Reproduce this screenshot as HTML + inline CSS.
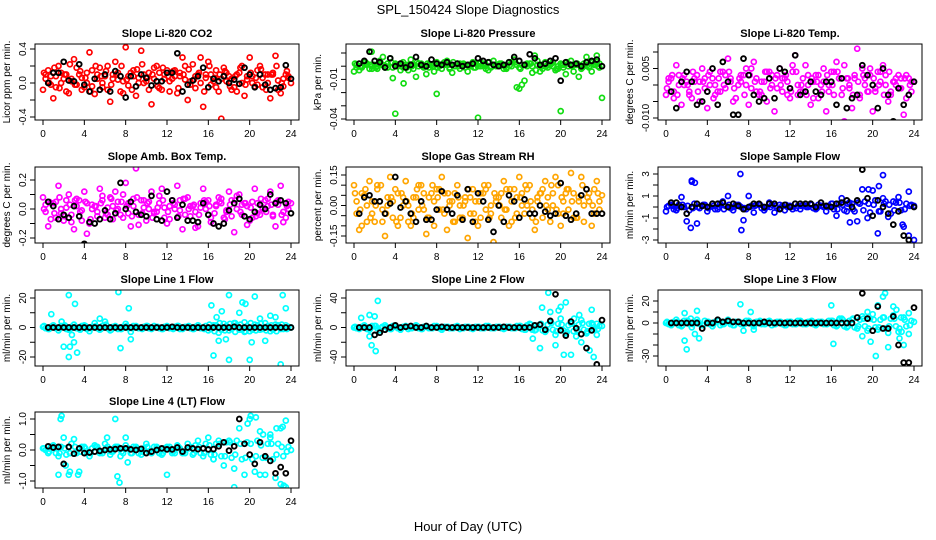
<!DOCTYPE html>
<html><head><meta charset="utf-8"><style>
body{margin:0;background:#fff}
svg{display:block;font-family:"Liberation Sans",Arial,sans-serif}
</style></head><body>
<svg id="chart" width="936" height="540" viewBox="0 0 936 540">
<text x="468" y="14" text-anchor="middle" font-size="13">SPL_150424  Slope Diagnostics</text>
<text x="468" y="531" text-anchor="middle" font-size="13">Hour of Day (UTC)</text>
</svg>
<script>
const hoursA=[0,0.5,1,1.5,2,2.5,3,3.5,4,4.5,5,5.5,6,6.5,7,7.5,8,8.5,9,9.5,10,10.5,11,11.5,12,12.5,13,13.5,14,14.5,15,15.5,16,16.5,17,17.5,18,18.5,19,19.5,20,20.5,21,21.5,22,22.5,23,23.5,24];
const hoursB=[0.25,0.75,1.25,1.75,2.25,2.75,3.25,3.75,4.25,4.75,5.25,5.75,6.25,6.75,7.25,7.75,8.25,8.75,9.25,9.75,10.25,10.75,11.25,11.75,12.25,12.75,13.25,13.75,14.25,14.75,15.25,15.75,16.25,16.75,17.25,17.75,18.25,18.75,19.25,19.75,20.25,20.75,21.25,21.75,22.25,22.75,23.25,23.75];
const hoursD=[0.1,0.6,1.1,1.6,2.1,2.6,3.1,3.6,4.1,4.6,5.1,5.6,6.1,6.6,7.1,7.6,8.1,8.6,9.1,9.6,10.1,10.6,11.1,11.6,12.1,12.6,13.1,13.6,14.1,14.6,15.1,15.6,16.1,16.6,17.1,17.6,18.1,18.6,19.1,19.6,20.1,20.6,21.1,21.6,22.1,22.6,23.1,23.6];
const hoursK=[0.5,1,1.5,2,2.5,3,3.5,4,4.5,5,5.5,6,6.5,7,7.5,8,8.5,9,9.5,10,10.5,11,11.5,12,12.5,13,13.5,14,14.5,15,15.5,16,16.5,17,17.5,18,18.5,19,19.5,20,20.5,21,21.5,22,22.5,23,23.5,24];
const xTicks=[0,4,8,12,16,20,24];

const co2A=[-0.08,0.15,-0.18,0.2,0.05,-0.12,0.28,0.1,-0.05,0.36,-0.13,0.18,0.08,-0.22,0.25,-0.1,0.42,0.12,-0.15,0.38,0.02,-0.25,0.2,-0.08,0.15,0.05,-0.12,0.3,-0.2,0.22,0.1,-0.28,0.25,0.02,-0.1,0.18,0.08,-0.05,0.12,-0.15,0.3,-0.04,0.2,0.1,-0.18,0.32,-0.12,0.1,0.0];
const co2B=[0.1,-0.02,0.08,0.12,-0.1,0.05,0.18,-0.08,0.0,0.15,0.1,-0.05,0.2,0.05,0.12,-0.12,0.08,0.15,0.0,0.1,-0.08,0.18,0.12,0.05,-0.1,0.15,0.08,0.2,0.02,-0.06,0.3,0.1,-0.02,0.15,-0.42,0.12,0.05,-0.1,0.2,0.08,0.0,0.15,-0.05,0.1,0.12,-0.08,0.05,0.08];
const co2C=[0.05,0.08,-0.05,0.0,0.1,0.02,-0.02,0.06,0.12,-0.04,0.05,0.0,-0.08,0.1,0.04,0.02,-0.03,0.08,0.06,0.0,0.12,0.05,-0.06,0.1,0.02,0.08,0.12,0.04,-0.02,0.08,0.0,0.06,0.1,-0.05,0.05,0.02,-0.08,0.1,0.0,0.04,0.08,-0.02,0.06,0.0,0.1,0.03,-0.04,0.06];
const co2D=[0.12,0.0,0.18,-0.06,0.1,0.22,-0.02,0.14,0.06,-0.1,0.2,0.08,0.14,-0.02,0.1,0.2,0.04,-0.08,0.16,0.22,0.06,0.1,-0.04,0.18,0.08,0.14,-0.06,0.1,0.16,0.04,0.12,-0.1,0.2,0.06,0.1,0.14,-0.04,0.08,0.18,-0.02,0.12,0.06,0.16,-0.08,0.1,0.2,0.0,0.14];
const co2K=[0.0,0.12,0.12,0.25,0.03,0.02,0.22,-0.02,-0.1,0.05,-0.08,0.1,-0.1,0.14,0.08,-0.17,0.08,-0.04,0.1,0.06,-0.03,0.02,0.02,0.12,0.12,0.35,-0.1,-0.02,0.03,0.08,0.18,-0.05,0.05,0.02,0.08,0.0,0.04,-0.01,0.18,0.1,-0.05,0.1,-0.02,-0.08,-0.06,-0.05,0.21,0.05];

const prsA=[-0.004,-0.003,0.003,-0.002,0.001,0.004,-0.001,0.006,0.002,-0.003,0.001,0.005,-0.008,0.002,-0.006,0.001,0.003,-0.002,0.004,-0.005,0.002,0.001,-0.004,0.003,0.0,0.002,-0.003,0.004,0.001,-0.002,0.003,0.005,-0.001,-0.011,0.002,0.008,-0.004,0.003,0.001,-0.003,0.002,-0.006,0.004,0.001,-0.002,0.007,-0.004,0.003,-0.024];
const prsB=[0.001,-0.001,0.002,0.0,-0.002,0.001,0.002,-0.001,0.0,0.003,-0.003,0.001,0.002,0.0,-0.001,0.002,0.001,0.003,-0.002,0.0,0.002,-0.001,0.001,0.002,0.003,-0.002,0.0,0.001,0.002,-0.001,0.003,0.001,-0.014,0.002,0.0,0.004,-0.002,0.001,0.003,0.0,-0.001,0.002,0.001,-0.008,0.002,0.0,0.001,0.002];
const prsC=[-0.001,0.0,0.001,-0.002,0.0,0.001,-0.001,-0.009,0.0,-0.001,0.001,-0.002,0.0,-0.001,0.001,-0.004,0.0,0.001,-0.001,0.0,-0.002,0.001,0.0,-0.001,0.0,0.001,-0.001,0.0,0.001,-0.002,0.0,-0.016,0.001,0.0,-0.005,0.001,0.0,-0.001,0.0,-0.002,0.001,0.0,-0.004,0.001,0.0,-0.001,0.002,-0.001];
const prsD=[0.002,0.0,0.003,0.001,-0.001,0.002,0.0,0.003,0.001,0.002,-0.001,0.0,0.003,0.001,0.002,0.0,-0.001,0.002,0.001,0.003,0.0,0.002,0.001,-0.001,0.002,0.0,0.003,0.001,0.002,0.0,0.001,0.003,-0.002,0.001,0.002,-0.003,0.001,0.0,0.002,-0.002,0.001,0.003,0.0,0.002,-0.001,0.001,0.003,0.0];
const prsOut=[[4,-0.036],[12,-0.039],[20,-0.034],[8,-0.021],[16,-0.017],[1.7,0.011],[23.5,0.008],[4.8,-0.013],[2.8,0.007]];
const prsK=[0.002,0.004,0.011,0.004,0.003,-0.001,0.006,0.0,0.002,-0.001,0.001,0.007,0.001,0.0,0.005,0.002,0.001,0.003,0.001,0.002,0.0,0.001,0.002,0.006,0.004,0.003,0.001,0.0,0.001,0.003,0.007,0.004,0.001,0.009,0.006,0.001,0.002,0.004,0.006,-0.011,0.003,0.001,0.002,0.0,0.003,0.004,0.005,0.0];

const tmpA=[-0.003,0.002,0.006,-0.006,0.001,-0.004,0.003,0.005,-0.007,0.002,-0.002,0.004,0.008,-0.005,0.0,0.003,-0.006,0.007,-0.003,0.001,0.004,-0.008,0.005,0.002,-0.004,0.009,-0.002,0.006,-0.006,0.003,0.0,-0.008,0.004,0.007,-0.003,0.002,-0.007,0.011,0.005,-0.002,-0.008,0.004,0.006,-0.005,0.001,0.003,-0.009,0.002,0.001];
const tmpB=[0.001,-0.002,0.003,0.0,-0.003,0.002,0.001,-0.001,0.004,0.0,-0.002,0.003,0.002,-0.004,0.001,0.005,-0.001,0.002,-0.003,0.004,0.0,0.003,-0.002,0.001,0.006,-0.003,0.002,0.0,-0.004,0.003,0.001,-0.002,0.004,0.002,-0.011,0.0,0.003,-0.003,0.002,0.005,-0.001,0.001,0.003,-0.002,0.0,0.002,-0.004,0.001];
const tmpC=[0.002,-0.004,0.0,0.003,-0.002,0.001,-0.005,0.002,0.0,-0.003,0.004,-0.001,0.001,-0.004,0.003,0.0,0.005,-0.002,0.001,-0.005,0.003,-0.001,0.002,-0.003,0.004,0.0,-0.002,0.003,0.001,-0.004,0.005,0.0,-0.003,0.002,0.006,-0.001,0.002,-0.004,0.0,0.003,-0.002,0.004,0.0,-0.003,0.002,-0.001,0.003,-0.002];
const tmpD=[-0.001,0.003,-0.003,0.002,0.0,0.004,-0.002,0.001,0.003,-0.004,0.002,0.0,0.004,-0.001,0.002,-0.003,0.003,0.001,-0.002,0.004,-0.001,0.002,0.0,0.003,-0.002,0.004,0.0,-0.003,0.002,0.001,-0.002,0.003,0.0,0.004,-0.001,0.002,-0.003,0.001,0.003,-0.002,0.002,0.0,-0.003,0.004,0.001,-0.001,0.002,0.0];
const tmpK=[-0.002,-0.007,0.001,0.004,0.001,-0.006,-0.005,-0.002,0.005,-0.006,0.007,0.001,-0.009,-0.009,0.008,0.003,-0.003,-0.005,-0.004,0.002,-0.004,0.005,0.004,-0.001,0.009,-0.003,-0.002,0.001,-0.002,-0.003,0.001,0.001,-0.006,0.002,-0.007,-0.004,-0.003,0.006,0.003,0.0,-0.007,0.005,-0.003,-0.011,-0.001,-0.006,-0.003,0.001];

const ambA=[0.08,-0.12,0.04,0.16,-0.08,0.1,-0.14,0.06,0.12,-0.1,0.02,0.14,-0.06,0.08,0.12,-0.04,0.18,-0.12,0.28,0.06,-0.08,0.12,-0.02,0.14,-0.1,0.06,0.16,-0.14,0.08,0.02,-0.12,0.14,0.06,-0.1,0.08,-0.06,0.12,-0.16,0.1,0.04,-0.08,0.14,-0.04,0.06,0.12,-0.12,0.16,-0.06,0.04];
const ambB=[-0.02,0.04,-0.06,0.0,0.06,-0.04,0.02,-0.08,0.04,0.0,-0.02,0.06,-0.04,0.02,0.0,-0.06,0.04,0.02,-0.04,0.06,0.0,-0.02,0.04,-0.06,0.02,0.0,0.06,-0.04,0.02,-0.02,0.04,0.0,-0.06,0.02,0.04,-0.02,0.06,0.0,-0.04,0.02,-0.06,0.04,0.0,0.02,-0.04,0.06,-0.02,0.0];
const ambC=[0.03,-0.07,0.05,-0.03,0.01,-0.09,0.07,-0.01,-0.17,0.03,-0.05,0.09,0.01,-0.07,0.05,0.1,-0.03,0.07,-0.11,0.01,0.05,-0.03,0.09,0.01,-0.07,0.03,-0.01,0.07,-0.05,-0.13,0.01,0.05,-0.09,0.03,0.07,-0.01,-0.05,0.09,0.03,-0.11,0.05,-0.03,0.01,0.07,-0.05,0.03,-0.09,0.05];
const ambD=[0.0,0.05,-0.03,0.08,-0.05,0.03,0.06,-0.02,0.05,-0.07,0.02,0.04,-0.03,0.07,-0.01,0.05,0.02,-0.05,0.08,-0.03,0.04,-0.06,0.01,0.06,-0.02,0.04,-0.05,0.07,0.0,0.03,-0.04,0.06,0.02,-0.03,0.05,-0.07,0.03,0.06,-0.02,0.04,0.01,-0.05,0.07,-0.02,0.03,0.05,-0.04,0.02];
const ambK=[0.05,0.02,-0.07,-0.04,-0.06,0.02,-0.05,-0.24,-0.09,-0.1,-0.07,-0.01,-0.07,-0.03,0.18,0.0,0.05,-0.02,-0.04,-0.05,0.09,-0.07,-0.08,0.12,0.06,-0.06,0.03,-0.08,-0.08,-0.09,0.04,-0.04,-0.1,-0.12,-0.1,-0.01,0.04,0.07,-0.05,-0.07,-0.02,0.03,0.0,0.1,0.04,0.06,0.04,-0.03];

const rhA=[0.1,-0.12,0.05,0.12,-0.08,0.02,-0.15,0.14,0.08,-0.06,0.12,-0.1,0.04,0.1,-0.14,0.06,0.08,0.14,-0.12,0.02,0.1,-0.06,-0.16,0.08,-0.1,0.06,0.1,-0.18,0.04,0.12,-0.1,0.08,0.14,-0.04,0.1,-0.12,0.06,0.12,-0.08,0.14,-0.1,0.06,0.16,-0.06,0.14,0.08,-0.1,0.12,0.05];
const rhB=[-0.04,0.06,-0.08,0.02,0.08,-0.02,0.04,-0.06,0.06,0.0,-0.08,0.04,-0.02,0.06,-0.06,0.02,0.08,-0.04,0.0,0.06,-0.06,0.02,0.04,-0.08,0.06,-0.02,0.0,0.04,-0.06,0.08,0.02,-0.04,0.06,0.0,-0.06,0.04,0.08,-0.02,0.06,-0.04,0.02,0.08,-0.06,0.04,0.0,0.06,-0.04,0.02];
const rhC=[0.02,-0.1,0.0,-0.04,0.1,-0.08,0.0,0.02,-0.1,0.04,0.0,-0.06,0.1,-0.02,0.04,-0.1,-0.02,0.06,0.02,-0.08,0.0,0.04,-0.04,0.02,-0.06,0.08,-0.04,0.02,0.06,-0.02,-0.08,0.04,0.0,0.08,-0.02,0.02,-0.06,0.04,0.0,0.1,-0.04,-0.02,0.06,0.02,-0.08,0.02,0.08,-0.02];
const rhD=[0.06,-0.02,0.08,-0.06,0.0,0.1,-0.04,0.04,-0.08,0.06,0.02,-0.04,0.08,0.0,-0.06,0.1,0.04,-0.02,0.06,-0.08,0.04,0.0,0.08,-0.04,0.02,0.1,-0.06,0.06,0.0,-0.02,0.08,-0.06,0.04,0.1,0.02,-0.08,0.06,0.0,0.1,-0.02,0.04,0.08,0.02,-0.06,0.1,0.04,0.0,0.06];
const rhK=[-0.04,0.04,0.05,0.02,0.02,-0.04,0.01,0.14,-0.01,0.02,-0.04,-0.08,0.02,-0.07,-0.07,-0.02,0.07,-0.02,-0.04,0.05,-0.07,0.08,-0.08,0.06,0.02,-0.07,-0.13,0.0,-0.08,0.05,0.02,-0.06,0.03,-0.04,-0.04,0.0,-0.03,-0.05,-0.04,0.11,-0.05,-0.07,-0.04,0.05,0.08,-0.04,-0.04,-0.04];

const sfA=[-0.4,0.2,-0.3,0.9,-1.3,2.4,-1.5,0.1,-0.4,0.3,-0.2,0.5,1.0,-0.3,0.2,-1.2,1.0,-0.5,0.2,-0.3,0.4,-0.5,0.2,-0.3,0.1,0.3,-0.2,0.1,0.3,-0.2,0.1,-0.4,0.3,-0.8,0.8,-0.4,0.3,-1.3,1.6,-1.0,1.5,-2.4,0.8,-0.9,0.5,0.9,-1.8,1.4,0.1];
const sfB=[0.1,-0.2,0.2,0.0,-0.3,0.3,-0.1,0.2,0.0,-0.2,0.3,0.1,-0.1,0.2,0.0,-0.2,0.1,0.2,-0.1,0.0,0.2,-0.1,0.1,0.0,-0.2,0.1,0.2,0.0,-0.1,0.2,0.0,0.1,-0.2,0.3,-0.3,0.4,-0.4,0.3,0.5,-0.5,0.6,-0.4,0.5,-0.6,0.4,-0.3,0.3,0.2];
const sfD=[0.0,0.1,-0.1,0.2,0.1,-0.1,0.0,0.2,-0.1,0.1,0.0,-0.2,0.2,0.0,0.1,-0.1,0.0,0.1,0.2,-0.1,0.0,0.1,-0.1,0.2,0.0,-0.1,0.1,0.0,0.2,-0.1,0.1,0.0,0.3,-0.2,0.2,0.3,-0.2,0.4,-0.3,0.3,0.2,-0.4,0.3,0.2,-0.3,0.4,-0.2,0.1];
const sfOut=[[7.2,3.0],[7.3,-2.1],[2.5,2.3],[2.8,2.2],[21,2.9],[20.6,1.9],[19.6,1.6],[24,-3.0],[23.5,-2.6],[2.4,-1.9],[22.9,-1.6],[17.8,-1.4]];
const sfK=[0.4,0.4,0.0,-0.6,0.0,0.3,0.1,0.0,0.3,0.3,0.4,0.0,0.3,0.1,-0.2,0.0,0.3,0.3,0.0,0.3,0.3,-0.2,0.2,0.0,0.3,0.3,0.3,0.3,0.0,0.4,0.1,0.0,0.3,0.4,0.6,0.0,0.6,3.4,0.8,-0.8,0.6,0.0,-0.6,-1.6,-0.4,-2.6,-3.0,0.0];

const l1A=[0.5,-1.0,1.5,-2.0,1.0,-1.5,2.0,-1.0,1.5,-2.5,3.0,-1.5,4.0,-2.0,1.0,-1.0,2.5,-3.0,1.0,-0.5,1.0,-1.0,0.5,-1.0,1.0,-0.5,1.0,-1.0,0.5,-1.0,1.5,-0.5,-2.0,1.5,-3.5,2.5,-2.0,3.0,-1.5,3.5,-2.5,2.0,-1.5,3.0,-2.5,2.0,-1.0,1.5,0.0];
const l1B=[-0.5,0.5,-0.5,1.0,-1.0,0.5,-0.5,1.0,-1.0,0.5,-0.5,1.0,-0.5,0.5,-1.0,0.5,-0.5,1.0,-0.5,0.5,-0.5,1.0,-0.5,0.5,-0.5,0.5,-1.0,0.5,-0.5,0.5,-0.5,1.0,-1.0,1.5,-1.5,1.0,-1.0,1.5,-1.5,1.0,-1.5,1.5,-1.0,1.0,-1.5,1.5,-1.0,0.5];
const l1D=[1,-1,0.5,-0.5,1.5,-1,0.5,-1.5,1,-0.5,1,-1,2,-1.5,0.5,-1,1,-0.5,0.5,-1,1,-0.5,0.5,-1,0.5,-1,1,-0.5,1,-1,0.5,-1,2,-2.5,3,-2,2.5,-3,2,-2.5,3,-2,2.5,-2,1.5,-2.5,2,-1];
const l1Out=[[0.8,9],[1.8,4],[2,-13],[2.5,22],[2.6,-13],[2.5,-20],[2.8,-5],[3.0,-10],[3.1,16],[3.3,-17],[5.5,6],[7.3,24],[7.5,-14],[8.3,13],[8.5,-8],[16.3,15],[16.5,-19],[16.8,7],[17,-9],[17.3,11],[17.7,-8],[18,22],[18,-22],[19,10],[19.3,17],[19.6,16],[20,-22],[20.2,-10],[20.5,21],[21,6],[21.5,-9],[22,8],[22.5,7],[23,-25],[23.2,22],[23.5,13],[18.6,3],[19.5,-3]];
const l1K=[0,0,0,0,0,0,0,0,0,0,0,0,0,0,0,0,0,0,0,0,0,0,0,0,0.5,0,0,0,0,0,0,0,0,0,0,0,0.5,0,0,0,0,0,0,0,0,0,0,0];

const l2A=[0,-2,3,-3,2,-4,3,-2,1,-3,2,-1,3,-2,1,-1,2,-3,1,-1,2,-1,1,-2,1,-1,2,-1,1,-2,1,-1,2,-3,5,-4,4,-6,8,-10,12,-8,6,-12,10,-8,6,-10,2];
const l2B=[-1,1,-2,2,-1,1,-1,2,-1,1,-2,1,-1,1,-1,2,-1,1,-1,1,-2,1,-1,1,-1,2,-1,1,-1,1,-1,2,-2,3,-3,2,-4,4,-3,5,-4,3,-5,4,-3,5,-3,2];
const l2D=[1,-1,1,-1,2,-1,1,-2,1,-1,1,-1,2,-2,1,-1,1,-1,1,-1,1,-1,1,-1,1,-1,1,-1,1,-1,1,-1,2,-3,4,-3,5,-4,6,-5,4,-6,5,-4,6,-5,4,-2];
const l2Out=[[0.7,13],[1.5,-12],[1.5,17],[1.7,-24],[2,15],[2.1,-32],[2.3,36],[17.3,-15],[18,-28],[18.2,27],[19,21],[19.5,-24],[19.8,23],[20,28],[20.3,-37],[20.5,34],[21,-37],[21.3,12],[22,-20],[22.5,-7],[23,24],[23.2,-40],[22.8,-31],[21.8,17],[23.5,5],[18.8,47]];
const l2K=[0,0,0,-10,-7,-3,0,3,0,1,2,0,0,2,0,0,1,0,0,0,0,0,0,0,0,0,0,0,1,0,0,0,0,0,3,4,-3,9,45,-4,-11,8,-1,-9,-28,-4,-50,10];

const l3A=[0,-2,3,-3,2,-4,3,-2,1,-3,2,-1,3,-2,1,-1,2,-3,1,-1,2,-1,1,-2,1,-1,2,-1,1,-2,1,-1,2,-3,4,-4,3,-5,6,-7,8,-6,5,-9,7,-8,5,-10,1];
const l3B=[-1,1,-2,2,-1,1,-1,2,-1,1,-2,1,-1,1,-1,2,-1,1,-1,1,-2,1,-1,1,-1,2,-1,1,-1,1,-1,2,-2,3,-3,2,-4,3,-3,4,-4,3,-5,4,-3,5,-3,2];
const l3D=[1,-1,1,-2,2,-1,1,-2,1,-1,2,-1,1,-2,1,-1,1,-1,2,-1,1,-1,1,-2,1,-1,1,-1,2,-1,1,-1,2,-2,3,-3,4,-3,4,-5,3,-4,5,-3,4,-5,3,-2];
const l3Out=[[1.8,9],[1.8,-16],[2,-24],[2.4,4],[2.8,-10],[3,11],[3.2,-14],[7.2,17],[7.5,-7],[8.2,10],[8.5,-6],[16,16],[16.2,-19],[16.8,4],[19,-12],[19.5,10],[19.8,-17],[20.3,-30],[20.5,16],[21,24],[21.2,27],[21.5,-22],[22,15],[22.3,12],[22.6,-14],[23,-20],[23.5,9],[22.8,-8]];
const l3K=[0,0,0,0,0,0,-5,0,0,3,1,2,1,1,0,0,0,0,1,0,0,0,0,0,0,0,0,0,0,0,0,0,0,0,0,0,5,27,4,-7,15,-5,-5,6,-20,-36,-36,14];

const l4A=[0.05,-0.1,0.15,-0.2,0.4,-0.8,0.35,-0.7,0.1,-0.2,0.15,-0.1,0.2,-0.15,0.1,-0.2,0.15,-0.1,0.1,-0.15,0.2,-0.1,0.1,-0.15,0.1,-0.1,0.15,-0.1,0.2,-0.15,0.3,-0.2,0.4,-0.3,0.3,-0.5,0.3,-0.6,0.7,-0.8,1.0,-0.7,0.6,-0.8,0.5,-0.9,0.7,-1.2,0.0];
const l4B=[0.0,0.1,-0.1,0.1,-0.15,0.2,-0.1,0.1,-0.1,0.05,0.1,-0.1,0.1,-0.05,0.1,-0.1,0.05,0.1,-0.1,0.05,-0.05,0.1,-0.1,0.05,0.1,-0.1,0.05,-0.1,0.1,0.15,-0.1,0.2,-0.15,0.2,-0.2,0.25,-0.25,0.3,-0.3,0.25,-0.3,0.3,-0.25,0.2,-0.3,0.2,-0.2,0.1];
const l4D=[0.05,-0.05,0.1,-0.1,0.05,-0.1,0.1,-0.05,0.05,-0.1,0.1,-0.05,0.05,-0.05,0.1,-0.05,0.05,-0.1,0.05,-0.05,0.1,-0.05,0.05,-0.1,0.05,-0.05,0.1,-0.05,0.05,-0.1,0.1,-0.1,0.15,-0.15,0.2,-0.2,0.25,-0.15,0.2,-0.25,0.2,-0.2,0.15,-0.25,0.2,-0.15,0.1,-0.05];
const l4Out=[[1.7,1.0],[1.8,1.1],[1.5,-0.8],[2.2,-0.5],[2.6,-0.7],[3.4,-0.8],[7,1.0],[7.2,-0.85],[7.4,-1.05],[6.2,0.4],[8,0.4],[8.2,-0.4],[12,-0.8],[16.5,-0.3],[18.5,-1.2],[19.8,0.85],[20.1,1.1],[20.6,1.05],[21,-0.8],[21.3,0.5],[22,0.4],[22.6,0.7],[23,-1.1],[23.3,-1.15],[23.5,0.95],[23.2,0.75]];
const l4K=[0.12,0.08,0.1,-0.45,0.1,-0.12,0.05,-0.1,-0.08,-0.05,-0.03,0.0,0.02,0.03,0.05,0.05,0.02,0.0,0.04,-0.1,-0.05,0.0,0.05,0.02,0.02,0.08,-0.05,0.08,0.05,0.03,0.05,0.02,0.03,0.12,0.25,-0.02,0.12,1.0,0.2,-0.15,-0.45,0.25,-0.2,-0.35,-0.75,-0.55,-0.75,0.3];

const NS="http://www.w3.org/2000/svg";
const svg=document.getElementById('chart');
const colLeft=[35,346,658], rowTop=[44,167,290,412], W=264, H=76;
const panels=[
 {name:'co2',title:'Slope Li-820 CO2',ylab:'Licor ppm per min.',c:0,r:0,col:'#ff0000',cal:[0.4,5,-0.4,73],ticks:[-0.4,-0.2,0,0.2,0.4],labs:[[-0.4,'-0.4'],[0,'0.0'],[0.4,'0.4']],ser:[[hoursA,co2A],[hoursB,co2B],[hoursB,co2C],[hoursD,co2D]],k:co2K,out:[]},
 {name:'pressure',title:'Slope Li-820 Pressure',ylab:'kPa per min.',c:1,r:0,col:'#11dd11',cal:[0.01,9,-0.04,75],ticks:[-0.04,-0.03,-0.02,-0.01,0,0.01],labs:[[-0.04,'-0.04'],[-0.01,'-0.01']],ser:[[hoursA,prsA],[hoursB,prsB],[hoursB,prsC],[hoursD,prsD]],k:prsK,out:prsOut},
 {name:'temp',title:'Slope Li-820 Temp.',ylab:'degrees C per min.',c:2,r:0,col:'#ff00ff',cal:[0.01,8,-0.01,74],ticks:[-0.01,-0.005,0,0.005,0.01],labs:[[-0.01,'-0.010'],[0.005,'0.005']],ser:[[hoursA,tmpA],[hoursB,tmpB],[hoursB,tmpC],[hoursD,tmpD]],k:tmpK,out:[]},
 {name:'amb-box',title:'Slope Amb. Box Temp.',ylab:'degrees C per min.',c:0,r:1,col:'#ff00ff',cal:[0.2,13,-0.2,71],ticks:[-0.2,-0.1,0,0.1,0.2],labs:[[-0.2,'-0.2'],[0,'0.0'],[0.2,'0.2']],ser:[[hoursA,ambA],[hoursB,ambB],[hoursB,ambC],[hoursD,ambD]],k:ambK,out:[]},
 {name:'rh',title:'Slope Gas Stream RH',ylab:'percent per min.',c:1,r:1,col:'#ffa500',cal:[0.15,8,-0.15,69],ticks:[-0.15,-0.1,-0.05,0,0.05,0.1,0.15],labs:[[-0.15,'-0.15'],[0,'0.00'],[0.15,'0.15']],ser:[[hoursA,rhA],[hoursB,rhB],[hoursB,rhC],[hoursD,rhD]],k:rhK,out:[]},
 {name:'sample-flow',title:'Slope Sample Flow',ylab:'ml/min per min.',c:2,r:1,col:'#0000ff',cal:[3,7,-3,73],ticks:[-3,-2,-1,0,1,2,3],labs:[[-3,'-3'],[-1,'-1'],[1,'1'],[3,'3']],ser:[[hoursA,sfA],[hoursB,sfB],[hoursD,sfD]],k:sfK,out:sfOut},
 {name:'line1',title:'Slope Line 1 Flow',ylab:'ml/min per min.',c:0,r:2,col:'#00ffff',cal:[20,8,-20,67],ticks:[-20,-10,0,10,20],labs:[[-20,'-20'],[0,'0'],[20,'20']],ser:[[hoursA,l1A],[hoursB,l1B],[hoursD,l1D]],k:l1K,out:l1Out},
 {name:'line2',title:'Slope Line 2 Flow',ylab:'ml/min per min.',c:1,r:2,col:'#00ffff',cal:[40,8,-40,67],ticks:[-40,-20,0,20,40],labs:[[-40,'-40'],[0,'0'],[40,'40']],ser:[[hoursA,l2A],[hoursB,l2B],[hoursD,l2D]],k:l2K,out:l2Out},
 {name:'line3',title:'Slope Line 3 Flow',ylab:'ml/min per min.',c:2,r:2,col:'#00ffff',cal:[20,11,-30,66],ticks:[-30,-20,-10,0,10,20],labs:[[-30,'-30'],[0,'0'],[20,'20']],ser:[[hoursA,l3A],[hoursB,l3B],[hoursD,l3D]],k:l3K,out:l3Out},
 {name:'line4',title:'Slope Line 4 (LT) Flow',ylab:'ml/min per min.',c:0,r:3,col:'#00ffff',cal:[1,7,-1,69],ticks:[-1,-0.5,0,0.5,1],labs:[[-1,'-1.0'],[0,'0.0'],[1,'1.0']],ser:[[hoursA,l4A],[hoursB,l4B],[hoursD,l4D]],k:l4K,out:l4Out}
];
function el(tag,attrs,parent){const e=document.createElementNS(NS,tag);for(const k in attrs)e.setAttribute(k,attrs[k]);(parent||svg).appendChild(e);return e;}
panels.forEach((p,pi)=>{
  const L=colLeft[p.c],T=rowTop[p.r];
  const g=el('g',{});
  
  
  const xs=h=>L+8+h*(248/24);
  const ys=v=>T+p.cal[1]+(v-p.cal[0])*(p.cal[3]-p.cal[1])/(p.cal[2]-p.cal[0]);
  const cp=el('clipPath',{id:'cp'+pi},g);
  el('rect',{x:L,y:T,width:W,height:H},cp);
  const t=el('text',{x:L+W/2,y:T-7,'text-anchor':'middle','font-size':'11','font-weight':'bold'},g);
  t.textContent=p.title;
  
  
  const yl=el('text',{x:0,y:0,'text-anchor':'middle','font-size':'10',transform:`translate(${L-25},${T+H/2}) rotate(-90)`},g);
  yl.textContent=p.ylab;
  
  
  const pts=el('g',{'clip-path':`url(#cp${pi})`,fill:'none'},g);
  
  
  const dot=(h,v,color,sw,r)=>{const c=el('circle',{cx:xs(h).toFixed(1),cy:ys(v).toFixed(1),r:r,stroke:color,'stroke-width':sw},pts);
    
    };
  p.ser.forEach(s=>{const hs=s[0];s[1].forEach((v,i)=>dot(hs[i],v,p.col,1.7,2.5));});
  p.out.forEach(o=>dot(o[0],o[1],p.col,1.7,2.5));
  p.k.forEach((v,i)=>dot(hoursK[i],v,'#000',1.9,2.4));
  const box=el('rect',{x:L,y:T,width:W,height:H,fill:'none',stroke:'#000','stroke-width':1},g);
  
  
  const ax=el('g',{stroke:'#000','stroke-width':1},g);
  
  
  xTicks.forEach(h=>{el('line',{x1:xs(h),x2:xs(h),y1:T+H,y2:T+H+5},ax);
    const tl=el('text',{x:xs(h),y:T+H+17,'text-anchor':'middle','font-size':'10',stroke:'none'},ax);tl.textContent=String(h);
    
    });
  const ay=el('g',{stroke:'#000','stroke-width':1},g);
  
  
  p.ticks.forEach(v=>el('line',{x1:L-5,x2:L,y1:ys(v),y2:ys(v)},ay));
  p.labs.forEach(lb=>{const tl=el('text',{x:0,y:0,'text-anchor':'middle','font-size':'10',stroke:'none',transform:`translate(${L-9},${ys(lb[0])}) rotate(-90)`},ay);tl.textContent=lb[1];
    
    });
});
</script>
</body></html>
